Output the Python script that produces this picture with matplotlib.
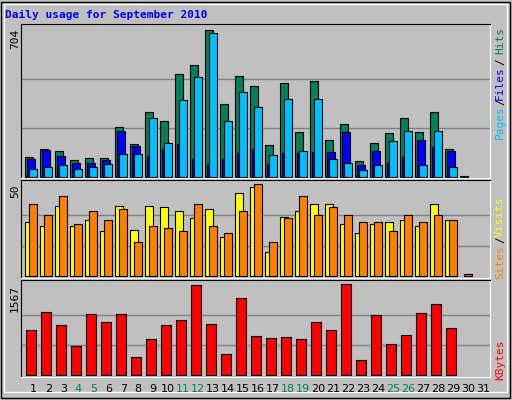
import matplotlib
matplotlib.use("Agg")
import matplotlib.pyplot as plt
import numpy as np

days = list(range(1, 32))
hits = [92,135,121,78,88,88,236,155,312,269,494,537,704,346,484,436,150,451,212,460,174,250,73,159,207,279,212,312,135,4,0]
files = [83,126,97,68,68,78,217,145,97,131,155,83,54,83,112,135,59,112,112,116,116,212,54,121,64,92,178,140,121,0,0]
pages = [35,45,54,35,45,59,107,107,279,159,365,479,690,269,408,336,102,370,121,374,83,68,30,54,169,221,54,217,45,0,0]
visits = [29.3,27.2,38,27.2,30.4,24.5,38,25,38,37.5,35.3,31.5,36.4,21.2,45.1,48.4,13,32,35.3,39.1,39.1,28.3,23.4,28.3,29.3,30.4,27.2,39.1,30.4,0,0]
sites = [39.1,33.2,43.5,28.3,35.3,30.4,36.4,18.5,27.2,26.1,24.5,39.1,27.2,23.4,35.3,50,18.5,31.5,43.5,33.2,37.5,33.2,29.3,29.3,24.5,33.2,29.3,33.2,30.4,1.1,0]
kbytes = [775,1085,861,499,1050,913,1050,310,620,861,947,1550,878,362,1326,672,637,654,620,913,775,1567,258,1033,534,689,1068,1223,809,0,0]
weekends = [4,5,11,12,18,19,25,26]

BG = "#c0c0c0"
W, H = 512, 400
fig = plt.figure(figsize=(5.12, 4.0), dpi=100, facecolor=BG)
mono = "DejaVu Sans Mono"

def ax_at(x0, y0, x1, y1):
    a = fig.add_axes([x0 / W, 1 - y1 / H, (x1 - x0) / W, (y1 - y0) / H])
    a.set_facecolor(BG)
    for s in ("left", "top"):
        a.spines[s].set_color("black")
    for s in ("right", "bottom"):
        a.spines[s].set_color("white")
    a.set_xticks([]); a.set_yticks([])
    a.set_xlim(0.18, 31.45)
    return a

d = np.array(days)

def bars(ax, off, vals, w, color):
    v = np.array(vals, dtype=float)
    m = v > 0
    ax.bar(d[m] + off, v[m], w, color=color, align="edge", edgecolor="black", linewidth=0.8)

a1 = ax_at(21, 24, 490, 178)
m1 = 704
a1.set_ylim(-m1 * 1.3 / 147, m1 * (176.7 - 24) / 147)
for g in (m1 / 3, 2 * m1 / 3):
    a1.axhline(g, color="#808080", lw=1, zorder=0)
bars(a1, -0.53, hits, 0.49, "#00805c")
bars(a1, -0.40, files, 0.49, "#0000ff")
bars(a1, -0.27, pages, 0.49, "#00c0ff")

a2 = ax_at(21, 180, 490, 278)
m2 = 50
a2.set_ylim(-m2 * 1.7 / 92, m2 * (276.3 - 180) / 92)
for g in (m2 / 3, 2 * m2 / 3):
    a2.axhline(g, color="#808080", lw=1, zorder=0)
bars(a2, -0.53, visits, 0.49, "#ffff00")
bars(a2, -0.27, sites, 0.49, "#ff8000")

a3 = ax_at(21, 280, 490, 377)
m3 = 1567
a3.set_ylim(-m3 * 1.7 / 91, m3 * (375.3 - 280) / 91)
for g in (m3 / 3, 2 * m3 / 3):
    a3.axhline(g, color="#808080", lw=1, zorder=0)
bars(a3, -0.47, kbytes, 0.67, "#ff0000")

def ftext(x, y, s, **k):
    fig.text(x / W, 1 - y / H, s, **k)

ftext(5, 15, "Daily usage for September 2010", color="#0000ff", fontsize=8,
      fontweight="bold", family=mono, va="center")
for y, s in ((29, "704"), (185, "50"), (285, "1567")):
    ftext(15, y, s, rotation=90, fontsize=8, family=mono, va="top", ha="center")

for y, s, c in ((122, "Pages", "#00c0ff"), (102, "/", "black"), (83, "Files", "#0000ff"),
                (62, "/", "black"), (40, "Hits", "#00805c"),
                (262, "Sites", "#ff8000"), (240, "/", "black"), (217, "Visits", "#ffff00"),
                (360, "KBytes", "#ff0000")):
    ftext(500, y, s, rotation=90, fontsize=8, family=mono, va="center", ha="center", color=c)

for k in days:
    x = 33.3 + 15 * (k - 1)
    ftext(x, 389, str(k), fontsize=8, ha="center", va="center",
          color="#00805c" if k in weekends else "black")

fig.add_artist(plt.Rectangle((0.002, 0.005), 0.994, 0.99, transform=fig.transFigure,
                             fill=False, edgecolor="black", lw=1))
fig.add_artist(plt.Rectangle((0.008, 0.02), 0.982, 0.97, transform=fig.transFigure,
                             fill=False, edgecolor="white", lw=1))
fig.savefig("out.png", dpi=100, facecolor=BG)
